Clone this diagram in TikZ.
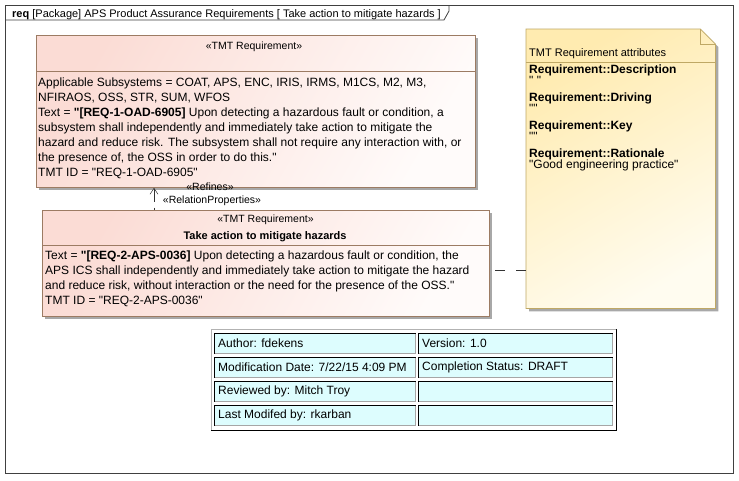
\documentclass[tikz,border=0pt]{standalone}
\usepackage{fontspec}
\setmainfont{Liberation Sans}[Ligatures=TeXOff]
\usetikzlibrary{arrows.meta,calc,shadows}

\definecolor{reqpink}{HTML}{FBDCD5}
\definecolor{reqlight}{HTML}{FFFBFA}
\definecolor{reqborder}{HTML}{9C7B63}
\definecolor{notetop}{HTML}{FFEBB0}
\definecolor{notebot}{HTML}{FFFCF0}
\definecolor{noteborder}{HTML}{BFA865}
\definecolor{cellfill}{HTML}{DDFDFE}
\definecolor{framecol}{HTML}{404040}
\definecolor{shadowcol}{HTML}{A8A8A8}

\tikzset{
  txt/.style={font=\fontsize{12}{15}\selectfont, inner sep=0pt},
  small/.style={font=\fontsize{11}{14}\selectfont, inner sep=0pt},
  stereo/.style={font=\fontsize{10.5}{13}\selectfont, inner sep=0pt},
  body/.style={txt, align=left, anchor=north west},
  reqbox/.style={draw=reqborder, line width=0.8pt, top color=reqpink, bottom color=reqlight,
    shading angle=60, inner sep=0pt, anchor=north west,
    general shadow={fill=shadowcol, shadow xshift=3pt, shadow yshift=-3pt}},
  sepline/.style={draw=reqborder, line width=0.8pt},
  cellbox/.style={fill=cellfill, draw=gray!70, line width=0.6pt, inner sep=0pt, anchor=north west,
    minimum height=20pt},
  relline/.style={draw=black!80, line width=0.5pt, dash pattern=on 13pt off 6pt},
  noteline/.style={draw=black!80, line width=0.6pt, dash pattern=on 10pt off 11pt},
}

\begin{document}
\begin{tikzpicture}[x=1pt,y=-1pt]
\useasboundingbox (0,0) rectangle (739,480);
\fill[white] (0,0) rectangle (739,480);

% frame
\draw[framecol, line width=0.9pt] (5,5) rectangle (733,473);
\draw[framecol, line width=0.8pt] (5,20) -- (444,20) -- (449,11) -- (449,5);
\node[small, anchor=base west] (title) at (12,17)
  {\textbf{req} [Package] APS Product Assurance Requirements [ Take action to mitigate hazards ]};

% requirement 1
\node[reqbox, minimum width=439pt, minimum height=152pt] (b1) at (36,35) {};
\coordinate (s1) at (0,71);
\draw[sepline] (b1.west |- s1) -- (b1.east |- s1);
\node[stereo, anchor=base] (b1st) at (254,49) {«TMT Requirement»};
\node[body] (b1txt) at (38,76) {\strut Applicable Subsystems = COAT, APS, ENC, IRIS, IRMS, M1CS, M2, M3,\\
NFIRAOS, OSS, STR, SUM, WFOS\\
Text = \textbf{"[REQ-1-OAD-6905]} Upon detecting a hazardous fault or condition, a\\
subsystem shall independently and immediately take action to mitigate the\\
hazard and reduce risk. The subsystem shall not require any interaction with, or\\
the presence of, the OSS in order to do this."\\
TMT ID = "REQ-1-OAD-6905"};

% requirement 2
\node[reqbox, minimum width=447pt, minimum height=106pt] (b2) at (42,210) {};
\coordinate (s2) at (0,245);
\draw[sepline] (b2.west |- s2) -- (b2.east |- s2);
\node[stereo, anchor=base] (b2st) at (265.5,222) {«TMT Requirement»};
\node[small, anchor=base] (b2name) at (265,239) {\textbf{Take action to mitigate hazards}};
\node[body] (b2txt) at (45,249) {\strut Text = \textbf{"[REQ-2-APS-0036]} Upon detecting a hazardous fault or condition, the\\
APS ICS shall independently and immediately take action to mitigate the hazard\\
and reduce risk, without interaction or the need for the presence of the OSS."\\
TMT ID = "REQ-2-APS-0036"};

% refines relation
\coordinate (ax) at (154,0);
\draw[relline, {Straight Barb[length=6pt,width=8pt]}-] (b1.south -| ax) -- (b2.north -| ax);
\node[stereo, anchor=base] (lref) at (210,190) {«Refines»};
\node[stereo, anchor=base] (lrp) at (212,203) {«RelationProperties»};

% note
\node[inner sep=0pt, minimum width=189pt, minimum height=279pt, anchor=north west] (note) at (526,29) {};
\fill[shadowcol] ($(note.north west)+(3,3)$) -- ($(note.north east)+(-12,3)$) -- ($(note.north east)+(3,18)$)
  -- ($(note.south east)+(3,3)$) -- ($(note.south west)+(3,3)$) -- cycle;
\path[top color=notetop, bottom color=notebot, shading angle=30, draw=noteborder, line width=0.8pt]
  (note.north west) -- ($(note.north east)+(-15,0)$) -- ($(note.north east)+(0,15)$)
  -- (note.south east) -- (note.south west) -- cycle;
\draw[noteborder, line width=0.8pt] ($(note.north east)+(-15,0)$) -- ($(note.north east)+(-15,15)$) -- ($(note.north east)+(0,15)$);
\coordinate (sn) at (0,62);
\draw[noteborder, line width=0.8pt] (note.west |- sn) -- (note.east |- sn);
\node[small, anchor=base west] (nhead) at (529,56) {TMT Requirement attributes};
\foreach \i/\yy/\t in {1/73/{\textbf{Requirement::Description}}, 2/84.5/{" "},
  3/101/{\textbf{Requirement::Driving}}, 4/112.5/{""},
  5/129/{\textbf{Requirement::Key}}, 6/140.5/{""},
  7/157/{\textbf{Requirement::Rationale}}, 8/168/{"Good engineering practice"}} {
  \node[txt, anchor=base west] (nl\i) at (529,\yy) {\t};
}

% connector to note
\coordinate (lvl) at (0,270);
\draw[noteline] (note.west |- lvl) -- (b2.east |- lvl);

% table
\node[fill=white, inner sep=0pt, minimum width=405pt, minimum height=101pt, anchor=north west] (tab) at (211,329) {};
\draw[gray!60, line width=0.8pt] (tab.south west) -- (tab.north west) -- (tab.north east);
\draw[black, line width=0.9pt] (tab.north east) -- (tab.south east) -- (tab.south west);
\foreach \r/\yy/\lt/\rt in {1/333/{Author: fdekens}/{Version: 1.0},
  2/357/{Modification Date: 7/22/15 4:09 PM}/{Completion Status: DRAFT},
  3/381/{Reviewed by: Mitch Troy}/{},
  4/405/{Last Modifed by: rkarban}/{}} {
  \node[cellbox, minimum width=201pt] (cl\r) at (214,\yy) {};
  \node[cellbox, minimum width=194pt] (cr\r) at (418,\yy) {};
  \draw[black, line width=0.8pt] (cl\r.south west) -- (cl\r.north west) -- (cl\r.north east);
  \draw[black, line width=0.8pt] (cr\r.south west) -- (cr\r.north west) -- (cr\r.north east);
  \node[txt, anchor=west] (tl\r) at ($(cl\r.west)+(4,0)$) {\lt};
  \node[txt, anchor=west] (tr\r) at ($(cr\r.west)+(4,0)$) {\rt};
}
\end{tikzpicture}
\end{document}
